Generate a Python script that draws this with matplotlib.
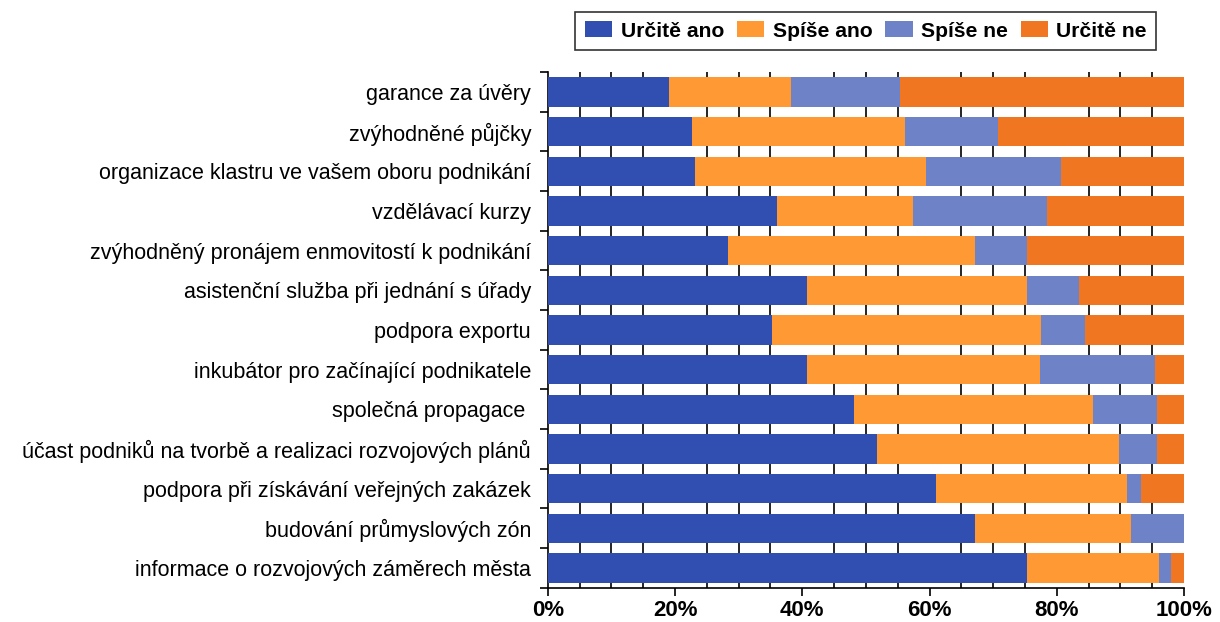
import numpy as np
import matplotlib.pyplot as plt
from matplotlib.ticker import MultipleLocator, PercentFormatter

plt.rcParams['font.family'] = ['Liberation Sans', 'DejaVu Sans']

categories = ["garance za úvěry",
              "zvýhodněné půjčky",
              "organizace klastru ve vašem oboru podnikání",
              "vzdělávací kurzy",
              "zvýhodněný pronájem enmovitostí k podnikání",
              "asistenční služba při jednání s úřady",
              "podpora exportu",
              "inkubátor pro začínající podnikatele",
              "společná propagace ",
              "účast podniků na tvorbě a realizaci rozvojových plánů",
              "podpora při získávání veřejných zakázek",
              "budování průmyslových zón",
              "informace o rozvojových záměrech města"]

urcite_ano = [19.0, 22.7, 23.2, 36.0, 28.4, 40.8, 35.3, 40.8, 48.1, 51.8, 61.0, 67.2, 75.4]
spise_ano = [19.3, 33.5, 36.2, 21.4, 38.8, 34.5, 42.2, 36.5, 37.6, 38.0, 30.1, 24.5, 20.7]
spise_ne = [17.0, 14.5, 21.3, 21.1, 8.1, 8.2, 7.0, 18.1, 10.0, 6.0, 2.1, 8.3, 1.9]
urcite_ne = [44.7, 29.3, 19.3, 21.5, 24.7, 16.5, 15.5, 4.6, 4.3, 4.2, 6.8, 0.0, 2.0]

series = [("Určitě ano", urcite_ano, "#314EB1"),
          ("Spíše ano", spise_ano, "#FF9933"),
          ("Spíše ne", spise_ne, "#6E82C8"),
          ("Určitě ne", urcite_ne, "#F07622")]

fig = plt.figure(figsize=(12.2, 6.22), dpi=100)
ax = fig.add_axes([0.449, 0.055, 0.5215, 0.829])

y = np.arange(len(categories))
left = np.zeros(len(categories))
for name, vals, col in series:
    vals = np.array(vals)
    ax.barh(y, vals, left=left, height=0.74, color=col, label=name, zorder=3)
    left += vals

ax.set_xlim(0, 100)
ax.set_ylim(len(categories) - 0.5, -0.5)
ax.set_yticks(y)
ax.set_yticklabels(categories, fontsize=15.5)
ax.set_yticks(np.arange(len(categories) + 1) - 0.5, minor=True)
ax.tick_params(axis='y', which='major', length=0, pad=12)
ax.tick_params(axis='y', which='minor', length=6, width=1.2, direction='out')

ax.xaxis.set_major_locator(MultipleLocator(20))
ax.xaxis.set_minor_locator(MultipleLocator(5))
ax.xaxis.set_major_formatter(PercentFormatter(decimals=0))
ax.tick_params(axis='x', which='major', length=6, width=1.2, labelsize=16, pad=3)
ax.tick_params(axis='x', which='minor', length=0)
for lab in ax.get_xticklabels():
    lab.set_fontweight('bold')

# minor gridlines show in the gaps between bars
for v in range(5, 100, 5):
    if v % 20:
        ax.axvline(v, color='black', lw=1.2, zorder=1)

for s in ['top', 'right']:
    ax.spines[s].set_visible(False)
ax.spines['left'].set_linewidth(1.2)
ax.spines['bottom'].set_linewidth(1.2)

leg = ax.legend(loc='lower center', bbox_to_anchor=(0.5, 1.022), ncol=4,
                frameon=True, fancybox=False, edgecolor='black',
                prop={'weight': 'bold', 'size': 15.2},
                handlelength=1.3, handleheight=0.8, handletextpad=0.4,
                columnspacing=0.6, borderpad=0.45)
leg.get_frame().set_linewidth(1.2)

fig.savefig("out.png", dpi=100)
